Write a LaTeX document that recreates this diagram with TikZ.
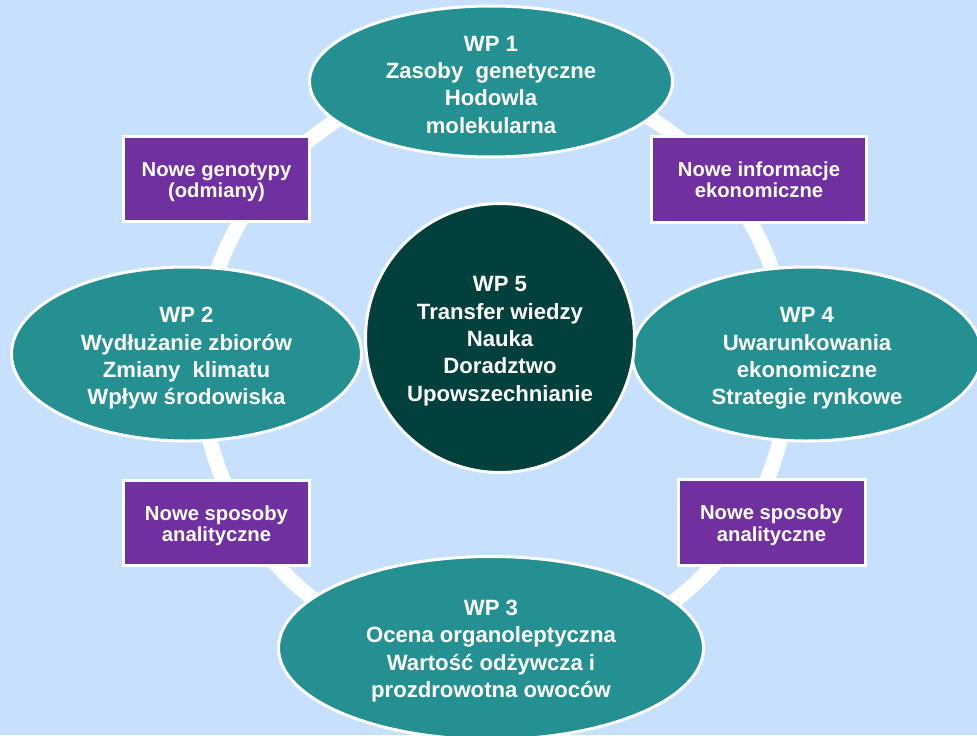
\documentclass[tikz,border=0pt]{standalone}
\usepackage{fontspec}
\setmainfont{Liberation Sans}
\usepackage{xcolor}
\usetikzlibrary{shapes.geometric}

\definecolor{bgblue}{RGB}{198,224,254}
\definecolor{wpteal}{RGB}{37,144,146}
\definecolor{wpdark}{RGB}{2,64,62}
\definecolor{wppurple}{RGB}{112,48,160}

\tikzset{
  wpell/.style={ellipse, draw=white, line width=2.25pt, fill=wpteal, inner sep=0pt},
  wpcore/.style={circle, draw=white, line width=2.25pt, fill=wpdark, inner sep=0pt},
  wpbox/.style={rectangle, draw=white, line width=2.25pt, fill=wppurple, inner sep=0pt},
  wptext/.style={text=white, align=center, inner sep=0pt, yshift=-2.4pt,
    font=\fontsize{16.6}{20.5}\selectfont\bfseries},
  boxtext/.style={text=white, align=center, inner sep=0pt, yshift=-2.2pt,
    font=\fontsize{15.2}{16.2}\selectfont\bfseries},
  ring/.style={draw=white, line width=11.25pt}
}

\begin{document}
\begin{tikzpicture}[x=0.75pt, y=-0.75pt]

  % background
  \fill[bgblue] (0,0) rectangle (977,735);
  \useasboundingbox (0,0) rectangle (977,735);

  % white ring behind everything
  \draw[ring] (495,368) circle[radius=220.5pt];

  % work packages
  \node[wpell, minimum width=272.25pt, minimum height=113.25pt] (wp1) at (491,81.5) {};
  \node[wpell, minimum width=262.5pt, minimum height=130.5pt] (wp2) at (186.5,354) {};
  \node[wpell, minimum width=318.75pt, minimum height=137.25pt] (wp3) at (491,648) {};
  \node[wpell, minimum width=262.5pt, minimum height=130.5pt] (wp4) at (807,354) {};
  \node[wptext] (wp1txt) at (wp1) {WP 1\\Zasoby\ \ genetyczne\\Hodowla\\molekularna};
  \node[wptext, yshift=-1pt] (wp2txt) at (wp2) {WP 2\\Wydłużanie zbiorów\\Zmiany\ \ klimatu\\Wpływ środowiska};
  \node[wptext] (wp3txt) at (wp3) {WP 3\\Ocena organoleptyczna\\Wartość odżywcza i\\prozdrowotna owoców};
  \node[wptext, yshift=-1pt] (wp4txt) at (wp4) {WP 4\\Uwarunkowania\\ekonomiczne\\Strategie rynkowe};

  % centre
  \node[wpcore, minimum size=201.75pt] (wp5) at (500,338) {};
  \node[wptext] (wp5txt) at (wp5) {WP 5\\Transfer wiedzy\\Nauka\\Doradztwo\\Upowszechnianie};

  % results between packages
  \node[wpbox, minimum width=139.5pt, minimum height=63.75pt] (genotypy) at (216.5,179) {};
  \node[wpbox, minimum width=161.25pt, minimum height=64.5pt] (informacje) at (759,179) {};
  \node[wpbox, minimum width=139.5pt, minimum height=63.75pt] (sposobyL) at (216.5,523) {};
  \node[wpbox, minimum width=140.25pt, minimum height=64.5pt] (sposobyR) at (771.5,522.5) {};
  \node[boxtext] at (genotypy) {Nowe genotypy\\(odmiany)};
  \node[boxtext, yshift=1.5pt] at (informacje) {Nowe informacje\\ekonomiczne};
  \node[boxtext] at (sposobyL) {Nowe sposoby\\analityczne};
  \node[boxtext] at (sposobyR) {Nowe sposoby\\analityczne};

\end{tikzpicture}
\end{document}
